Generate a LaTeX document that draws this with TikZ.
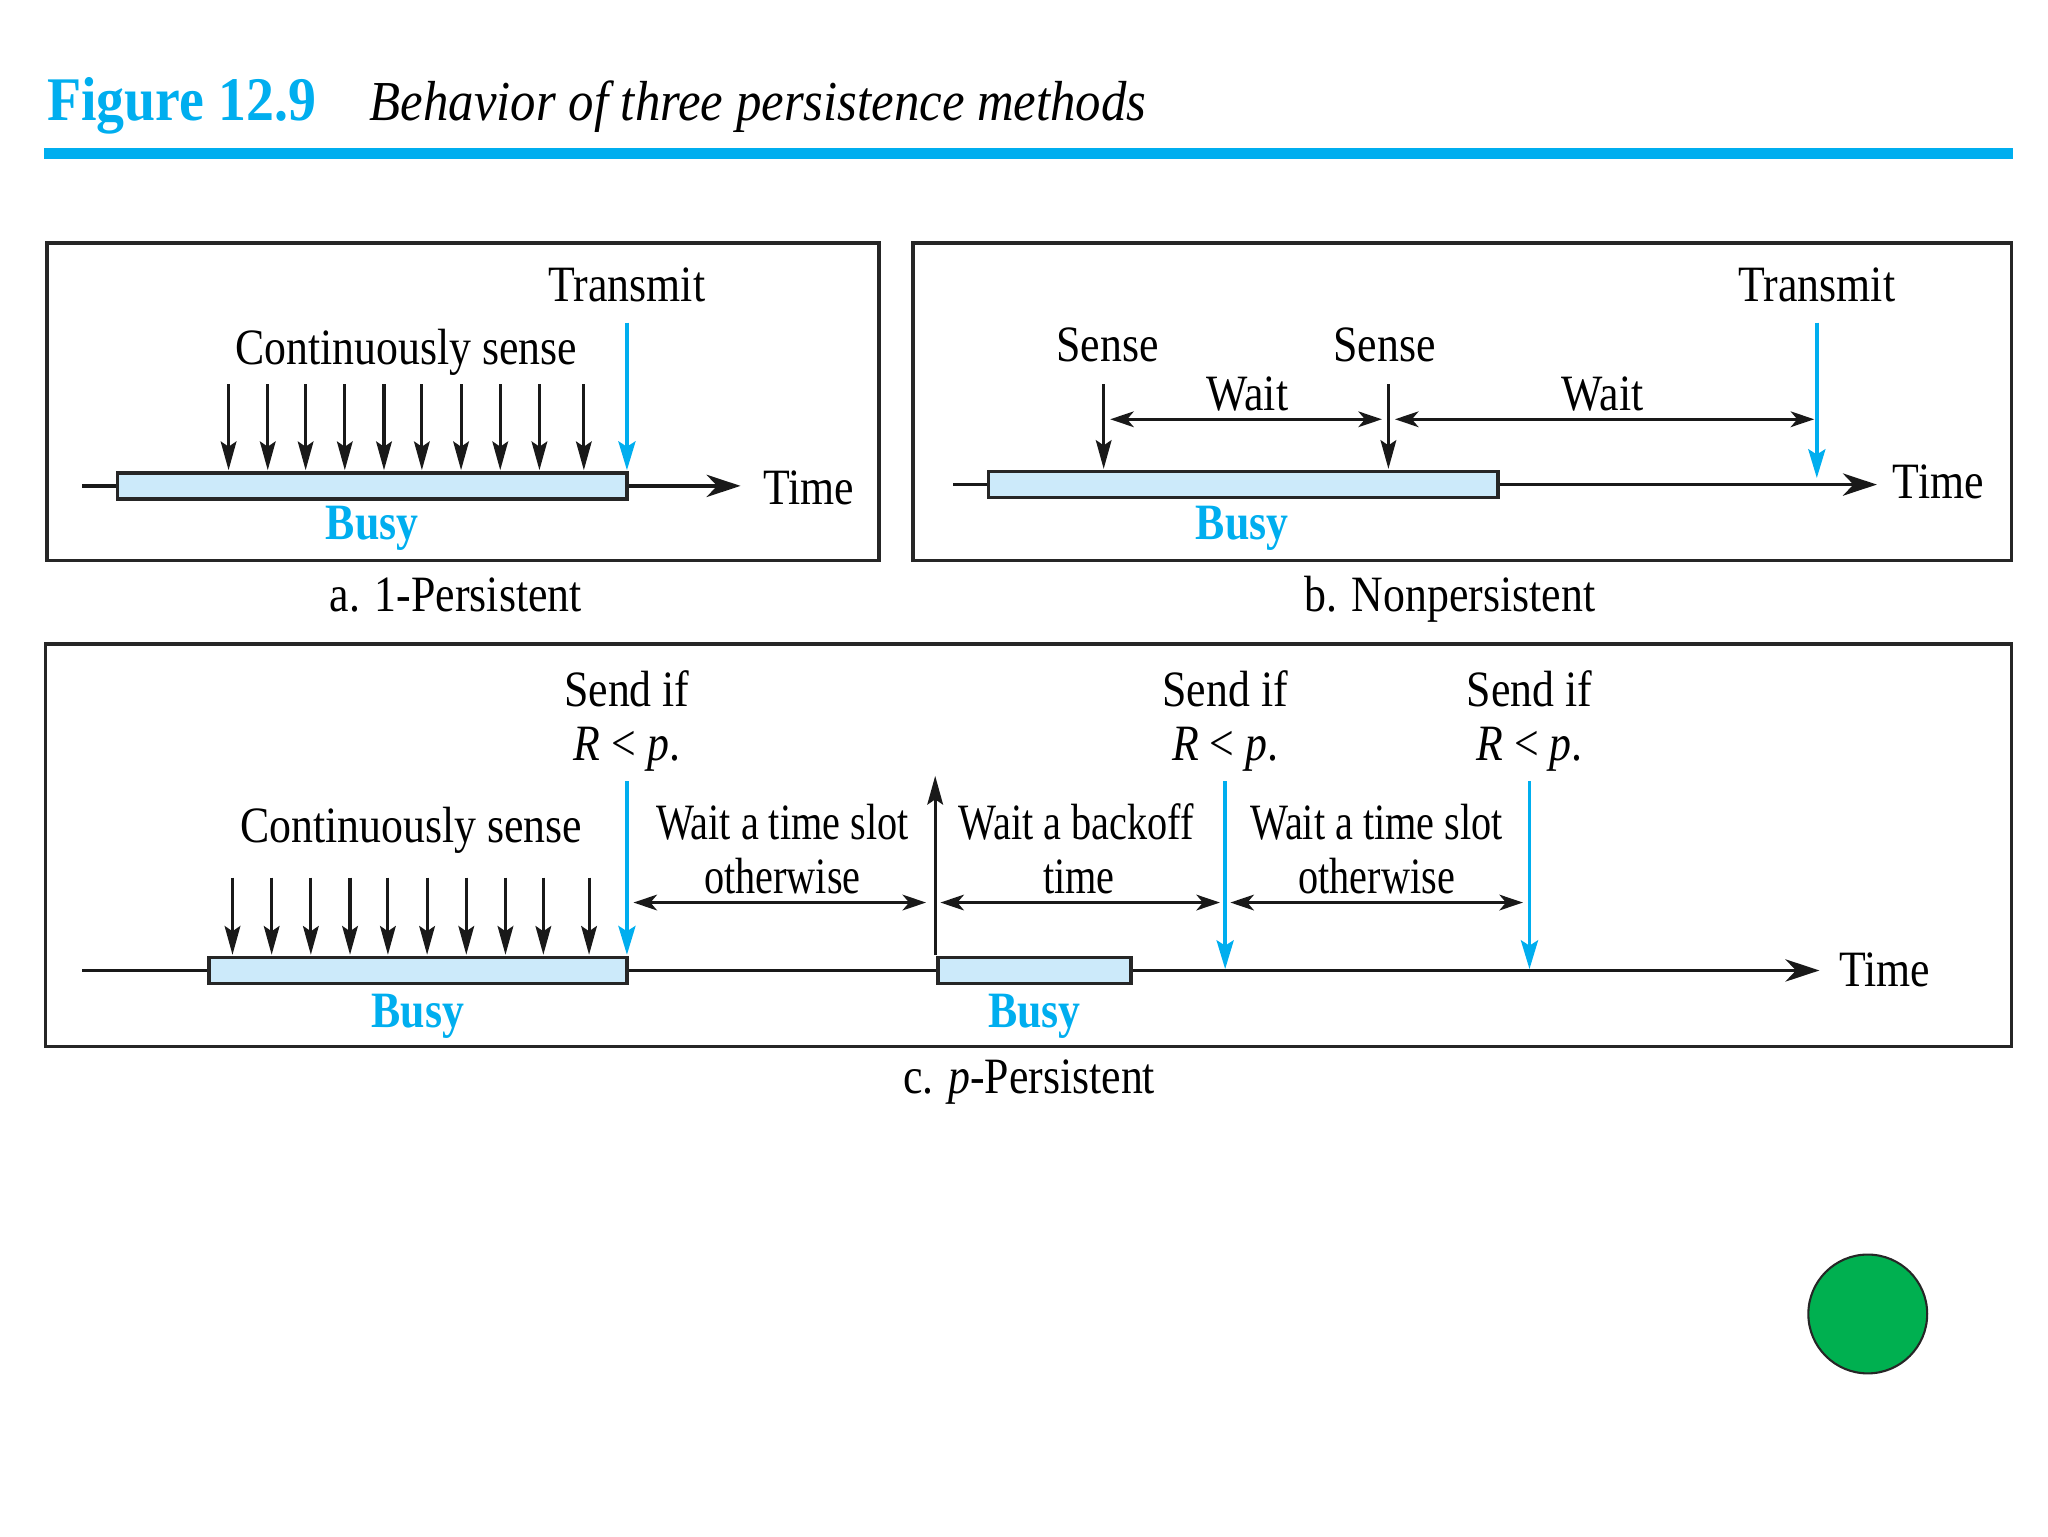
\documentclass[tikz,border=0pt]{standalone}
\usepackage{fontspec}
\setmainfont{Liberation Serif}[FakeStretch=0.86]
\newfontfamily\titlefont{Liberation Serif}[FakeStretch=0.9]
\newfontfamily\narrowfont{Liberation Serif}[FakeStretch=0.79]
\usetikzlibrary{arrows.meta}
\definecolor{figblue}{RGB}{0,174,239}
\definecolor{busyfill}{RGB}{204,234,250}
\definecolor{dotgreen}{RGB}{0,176,80}
\begin{document}
\begin{tikzpicture}[x=1pt,y=-1pt,
  lbl/.style={font=\fontsize{39}{44}\selectfont, anchor=base, inner sep=0pt},
  lbln/.style={lbl, font=\narrowfont\fontsize{39}{44}\selectfont},
  lblw/.style={lbl, anchor=base west},
  busylbl/.style={lbl, font=\fontsize{39}{44}\selectfont\bfseries, text=figblue},
  panel/.style={draw=black!85, line width=2.6pt},
  busybar/.style={draw=black!85, fill=busyfill, line width=2.6pt},
  axis/.style={draw=black!90, line width=2.8pt, -{Stealth[length=26pt,width=17pt,inset=8pt]}},
  sensearr/.style={draw=black!90, line width=2.4pt, -{Stealth[length=22pt,width=12pt,inset=4pt]}},
  bluearr/.style={draw=figblue, line width=3pt, -{Stealth[length=22pt,width=13pt,inset=4pt]}},
  dbl/.style={draw=black!90, line width=2.4pt, {Stealth[length=18pt,width=12pt,inset=5pt]}-{Stealth[length=18pt,width=12pt,inset=5pt]}},
]
\useasboundingbox (0,0) rectangle (1568,1176);

% ---------- title ----------
\node[anchor=base west, inner sep=0pt, text=figblue, font=\titlefont\fontsize{47.5}{52}\selectfont\bfseries] (tnum) at (36,92) {Figure 12.9};
\node[anchor=base west, inner sep=0pt, font=\titlefont\fontsize{43.2}{50}\selectfont\itshape] (ttxt) at (283,92) {Behavior of three persistence methods};
\fill[figblue] (34,113) rectangle (1541,122);

% ---------- panel a ----------
\draw[panel] (36,186) rectangle (673,429);
\coordinate (a0) at (63,372);
\coordinate (a1) at (567,372);
\draw[axis] (a0) -- (a1);
\draw[busybar] (90,362) rectangle (480,382);
\foreach \x [count=\i] in {175,205,234,264,294,323,353,383,413,447}{
  \coordinate (as\i) at (\x,294);
  \coordinate (ae\i) at (\x,360);
  \draw[sensearr] (as\i) -- (ae\i);
}
\coordinate (atx0) at (480,247);
\coordinate (atx1) at (480,360);
\draw[bluearr] (atx0) -- (atx1);
\node[lbl] (aTransmit) at (480,231) {Transmit};
\node[lbl] (aCont) at (311,279) {Continuously sense};
\node[lblw] (aTime) at (584,386) {Time};
\node[busylbl] (aBusy) at (285,413) {Busy};
\node[lbl] (aCap) at (349,468) {a. 1-Persistent};

% ---------- panel b ----------
\draw[panel] (699,186) rectangle (1540,429);
\coordinate (b0) at (730,371);
\coordinate (b1) at (1437,371);
\draw[axis] (b0) -- (b1);
\draw[busybar] (757,361) rectangle (1147,381);
\coordinate (bs1a) at (845,294);
\coordinate (bs1b) at (845,359);
\coordinate (bs2a) at (1063,294);
\coordinate (bs2b) at (1063,359);
\draw[sensearr] (bs1a) -- (bs1b);
\draw[sensearr] (bs2a) -- (bs2b);
\coordinate (bw1a) at (850,321);
\coordinate (bw1b) at (1058,321);
\coordinate (bw2a) at (1068,321);
\coordinate (bw2b) at (1389,321);
\draw[dbl] (bw1a) -- (bw1b);
\draw[dbl] (bw2a) -- (bw2b);
\coordinate (btx0) at (1391,247);
\coordinate (btx1) at (1391,366);
\draw[bluearr] (btx0) -- (btx1);
\node[lbl] (bSense1) at (848,277) {Sense};
\node[lbl] (bSense2) at (1060,277) {Sense};
\node[lbl] (bWait1) at (955,314) {Wait};
\node[lbl] (bWait2) at (1227,314) {Wait};
\node[lbl] (bTransmit) at (1391,231) {Transmit};
\node[lblw] (bTime) at (1449,382) {Time};
\node[busylbl] (bBusy) at (951,413) {Busy};
\node[lbl] (bCap) at (1110,468) {b. Nonpersistent};

% ---------- panel c ----------
\draw[panel] (35,493) rectangle (1540,801);
\coordinate (c0) at (63,743);
\coordinate (c1) at (1393,743);
\draw[axis] (c0) -- (c1);
\draw[busybar] (160,733) rectangle (480,753);
\draw[busybar] (718,733) rectangle (866,753);
\foreach \x [count=\i] in {178,208,238,268,297,327,357,387,416,451}{
  \coordinate (cs\i) at (\x,672);
  \coordinate (ce\i) at (\x,731);
  \draw[sensearr] (cs\i) -- (ce\i);
}
\coordinate (cb1a) at (480,598);
\coordinate (cb1b) at (480,731);
\coordinate (cb2a) at (938,598);
\coordinate (cb2b) at (938,742);
\coordinate (cb3a) at (1171,598);
\coordinate (cb3b) at (1171,742);
\draw[bluearr] (cb1a) -- (cb1b);
\draw[bluearr] (cb2a) -- (cb2b);
\draw[bluearr] (cb3a) -- (cb3b);
\coordinate (cup0) at (716,731);
\coordinate (cup1) at (716,594);
\draw[sensearr] (cup0) -- (cup1);
\coordinate (cw1a) at (485,691);
\coordinate (cw1b) at (709,691);
\coordinate (cw2a) at (720,691);
\coordinate (cw2b) at (934,691);
\coordinate (cw3a) at (942,691);
\coordinate (cw3b) at (1166,691);
\draw[dbl] (cw1a) -- (cw1b);
\draw[dbl] (cw2a) -- (cw2b);
\draw[dbl] (cw3a) -- (cw3b);
\node[lbl] (cSend1) at (480,541) {Send if};
\node[lbl] (cSend2) at (938,541) {Send if};
\node[lbl] (cSend3) at (1171,541) {Send if};
\node[lbl] (cR1) at (480,582) {\textit{R} < \textit{p}.};
\node[lbl] (cR2) at (938,582) {\textit{R} < \textit{p}.};
\node[lbl] (cR3) at (1171,582) {\textit{R} < \textit{p}.};
\node[lbl] (cCont) at (315,645) {Continuously sense};
\node[lbln] (cW1) at (599,643) {Wait a time slot};
\node[lbln] (cO1) at (599,684) {otherwise};
\node[lbln] (cW2) at (824,643) {Wait a backoff};
\node[lbln] (cT2) at (826,684) {time};
\node[lbln] (cW3) at (1054,643) {Wait a time slot};
\node[lbln] (cO3) at (1054,684) {otherwise};
\node[lblw] (cTime) at (1408,755) {Time};
\node[busylbl] (cBusy1) at (320,787) {Busy};
\node[busylbl] (cBusy2) at (792,787) {Busy};
\node[lbl] (cCap) at (788,837) {c. \textit{p}-Persistent};

% ---------- green dot ----------
\node[circle, fill=dotgreen, draw=black!85, line width=1.6pt, minimum size=91pt, inner sep=0pt] (dot) at (1430,1006) {};
\end{tikzpicture}
\end{document}
